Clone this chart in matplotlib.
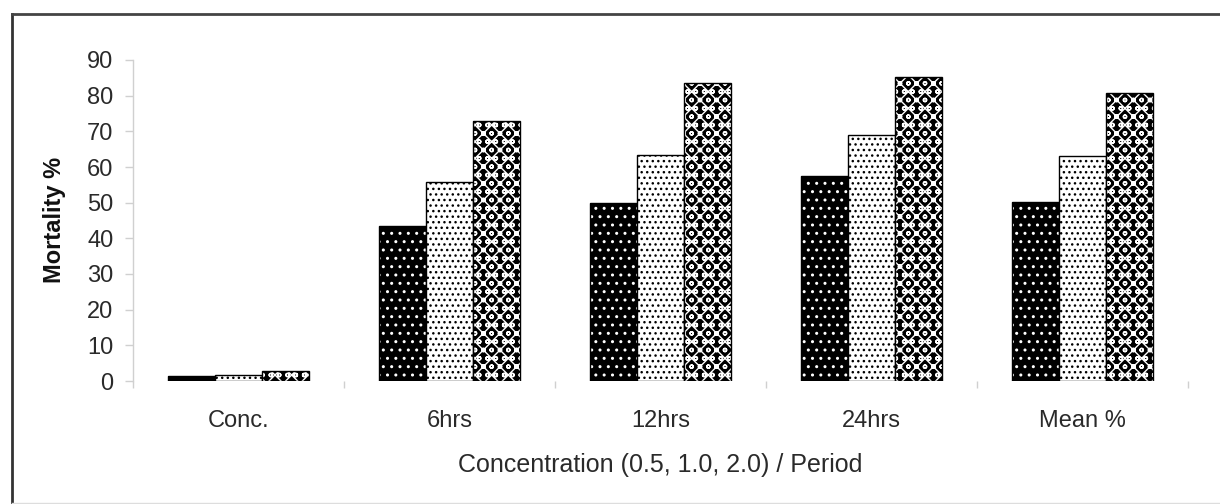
import numpy as np
import matplotlib.pyplot as plt
from matplotlib.lines import Line2D

plt.rcParams['font.family'] = ['Liberation Sans', 'DejaVu Sans']
plt.rcParams['hatch.linewidth'] = 1.0

# Data
categories = ['Conc.', '6hrs', '12hrs', '24hrs', 'Mean %']
conc_05 = [1.4, 43.5, 49.8, 57.5, 50.3]
conc_10 = [1.8, 55.8, 63.4, 69.0, 63.0]
conc_20 = [2.8, 73.0, 83.6, 85.3, 80.8]

fig = plt.figure(figsize=(12.2, 5.04), dpi=100)
ax = fig.add_axes([133/1220, 1 - 381/504, (1188 - 133)/1220, (381 - 60)/504])

x = np.arange(len(categories))
w = 0.223

# black bars with white dots
ax.bar(x - w, conc_05, w, color='black', edgecolor='white', hatch='..', linewidth=0)
ax.bar(x - w, conc_05, w, fill=False, edgecolor='black', linewidth=1)
# white bars with black dots
ax.bar(x, conc_10, w, color='white', edgecolor='black', hatch='...', linewidth=1)
# lattice bars
ax.bar(x + w, conc_20, w, color='black', edgecolor='white', hatch='xxoo', linewidth=0)
ax.bar(x + w, conc_20, w, fill=False, edgecolor='black', linewidth=1)

ax.set_xlim(-0.5, 4.5)
ax.set_ylim(0, 90)
ax.set_yticks(range(0, 91, 10))
ax.set_xticks(x)
ax.set_xticklabels(categories)
ax.set_xticks(np.arange(-0.5, 4.6, 1), minor=True)

for s in ['top', 'right', 'bottom']:
    ax.spines[s].set_visible(False)
ax.spines['left'].set_color('#d0d0d0')
ax.spines['left'].set_linewidth(1)

ax.tick_params(axis='y', colors='#d0d0d0', labelcolor='#2a2a2a', labelsize=17,
               length=6, width=1, pad=8)
ax.tick_params(axis='x', which='major', length=0, labelsize=17,
               labelcolor='#2a2a2a', pad=21)
ax.tick_params(axis='x', which='minor', length=5, width=1, color='#d0d0d0')

fig.text(55/1220, 1 - 220/504, 'Mortality %', rotation=90, ha='center',
         va='center', fontsize=17, fontweight='bold', color='#111111')
fig.text(660/1220, 1 - 465/504, 'Concentration (0.5, 1.0, 2.0) / Period',
         ha='center', va='center', fontsize=18, color='#2a2a2a')

# outer frame
fig.add_artist(Line2D([12/1220, 12/1220], [1 - 14/504, 0], color='#333333', lw=2,
                      transform=fig.transFigure))
fig.add_artist(Line2D([12/1220, 1], [1 - 14/504, 1 - 14/504], color='#444444', lw=2,
                      transform=fig.transFigure))
fig.add_artist(Line2D([12/1220, 1], [1/504, 1/504], color='#dddddd', lw=1,
                      transform=fig.transFigure))

fig.savefig('out.png', dpi=100)
